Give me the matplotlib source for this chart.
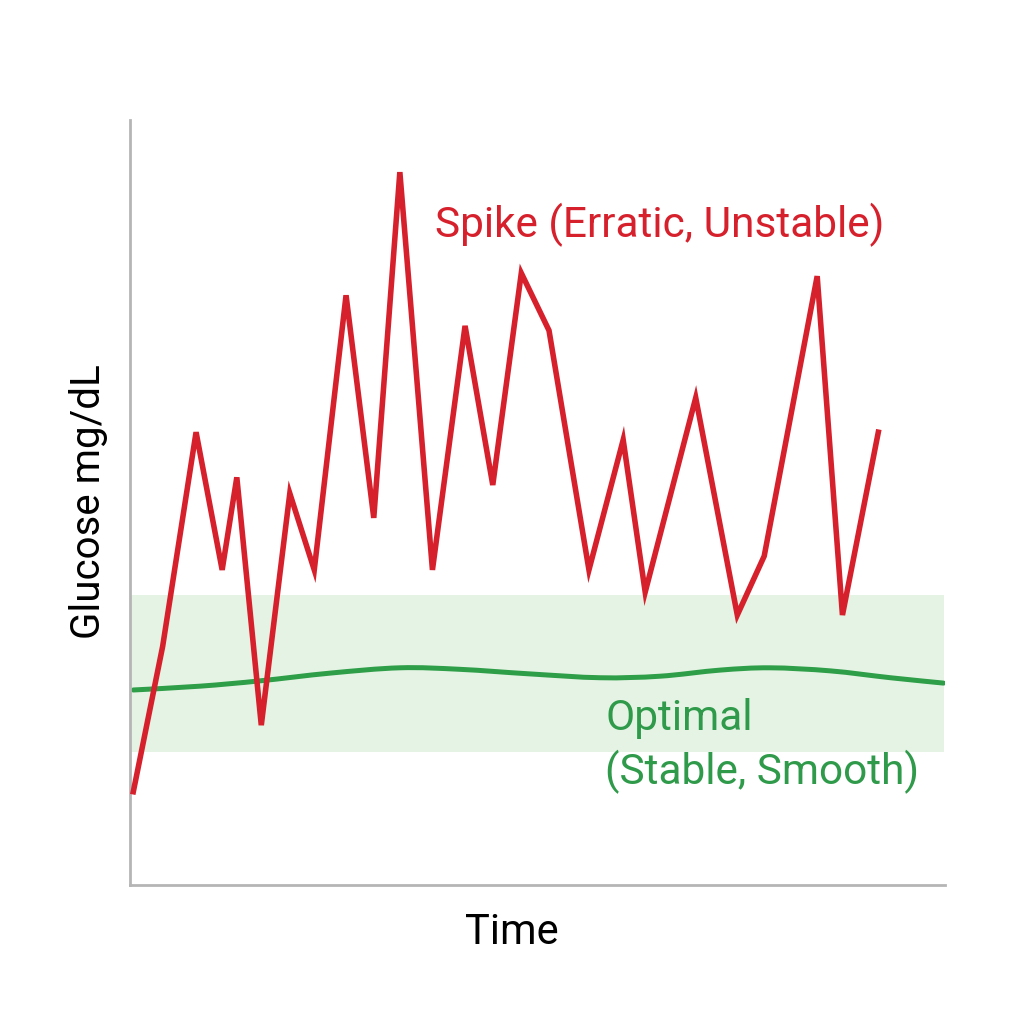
import matplotlib.pyplot as plt
from matplotlib.path import Path
from matplotlib.patches import PathPatch

plt.rcParams['font.family'] = ['Roboto', 'DejaVu Sans']

# spike (erratic) glucose trace
spike_x = [0.4, 4.0, 8.1, 11.3, 13.1, 16.1, 19.6, 22.6, 26.5, 29.9, 33.1, 37.1,
           41.1, 44.5, 48.0, 51.4, 56.3, 60.5, 63.2, 69.4, 74.5, 77.8, 84.3, 87.4, 91.8]
spike_y = [12.2, 31.2, 59.2, 41.2, 53.3, 20.9, 51.2, 41.2, 77.1, 48.0, 93.2, 41.2,
           73.1, 52.3, 80.0, 72.5, 41.2, 58.2, 38.3, 63.7, 35.3, 43.0, 79.6, 35.3, 59.2]

# optimal (smooth) glucose trace
opt_x = [0.4, 8.6, 16.0, 24.5, 33.1, 40.5, 49.1, 57.7, 65.0, 72.4, 78.5, 85.9, 93.3, 99.8]
opt_y = [25.5, 26.0, 26.7, 27.7, 28.4, 28.2, 27.6, 27.1, 27.3, 28.1, 28.4, 28.0, 27.1, 26.4]

band_low, band_high = 17.4, 37.9


def smooth_path(xs, ys):
    # catmull-rom through the points, drawn as cubic bezier segments
    pts = list(zip(xs, ys))
    verts = [pts[0]]
    codes = [Path.MOVETO]
    for i in range(len(pts) - 1):
        p0 = pts[i - 1] if i > 0 else pts[i]
        p1 = pts[i]
        p2 = pts[i + 1]
        p3 = pts[i + 2] if i + 2 < len(pts) else pts[i + 1]
        c1 = (p1[0] + (p2[0] - p0[0]) / 6, p1[1] + (p2[1] - p0[1]) / 6)
        c2 = (p2[0] - (p3[0] - p1[0]) / 6, p2[1] - (p3[1] - p1[1]) / 6)
        verts += [c1, c2, p2]
        codes += [Path.CURVE4] * 3
    return Path(verts, codes)


fig = plt.figure(figsize=(10.24, 10.24), dpi=100)
ax = fig.add_axes([0.127, 0.1357, 0.796, 0.747])

ax.axhspan(band_low, band_high, xmin=0, xmax=0.998, color='#e5f3e4', zorder=0, lw=0)
ax.add_patch(PathPatch(smooth_path(opt_x, opt_y), facecolor='none', edgecolor='#2e9e48',
                       lw=3.6, capstyle='round', zorder=2))
ax.plot(spike_x, spike_y, color='#d6202c', lw=4, solid_joinstyle='miter', zorder=3)

ax.text(37.4, 86.3, 'Spike (Erratic, Unstable)', color='#d6202c', fontsize=30.5,
        va='center', ha='left')
ax.text(58.3, 18.2, 'Optimal\n(Stable, Smooth)', color='#2e9a4a', fontsize=30.5,
        va='center', ha='left', linespacing=1.3)

ax.set_xlim(0, 100)
ax.set_ylim(0, 100)
ax.set_xticks([])
ax.set_yticks([])
for side in ['top', 'right']:
    ax.spines[side].set_visible(False)
for side in ['left', 'bottom']:
    ax.spines[side].set_color('#b5b5b5')
    ax.spines[side].set_linewidth(2)

fig.text(512 / 1024, 1 - 933 / 1024, 'Time', fontsize=30, ha='center', va='center')
fig.text(88 / 1024, 1 - 502 / 1024, 'Glucose mg/dL', fontsize=29, ha='center',
         va='center', rotation=90)

fig.savefig('out.png', dpi=100, facecolor='white')
